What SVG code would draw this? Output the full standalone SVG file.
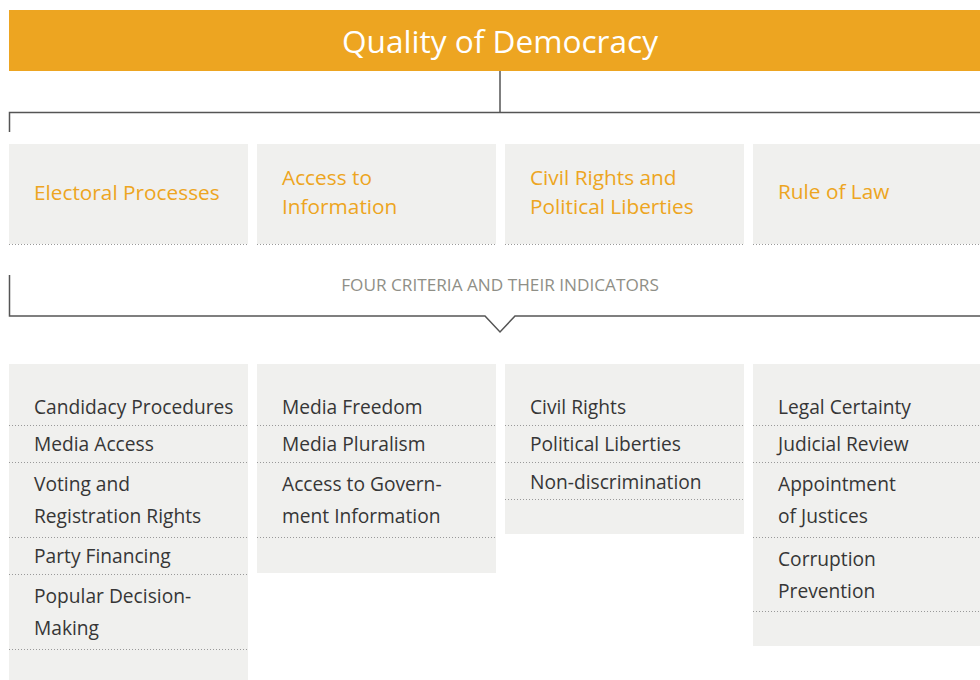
<svg xmlns="http://www.w3.org/2000/svg" width="980" height="680" viewBox="0 0 980 680">
<style>
.box{fill:#f0f0ee}
.dot{stroke:#999;stroke-width:1;stroke-dasharray:1 2;fill:none}
.crit{font-family:"Open Sans","Noto Sans",sans-serif;font-size:20.8px;fill:#eda521}
.ind{font-family:"Open Sans","Noto Sans",sans-serif;font-size:19.2px;fill:#363636}
.line{stroke:#555;stroke-width:1.5;fill:none}
</style>
<rect width="980" height="680" fill="#fff"/>
<g id="title">
<rect x="9" y="10" width="971" height="61" fill="#eda521"/>
<text x="500" y="53" text-anchor="middle" font-family="Open Sans, Noto Sans, sans-serif" font-size="31.6" fill="#fff">Quality of Democracy</text>
</g>
<g id="connectors">
<path class="line" d="M500,71 V112.5 M9.5,132 V112.5 H980"/>
<path class="line" d="M9.5,275 V316 H485 L500,332 L515,316 H980"/>
</g>
<text x="500" y="291" text-anchor="middle" font-family="Open Sans, Noto Sans, sans-serif" font-size="17.2" fill="#8f8f87">FOUR CRITERIA AND THEIR INDICATORS</text>
<g id="crit-electoral">
<rect class="box" x="9" y="144" width="239" height="100"/>
<path class="dot" d="M9,244.5 H248"/>
<text class="crit" x="34" y="200">Electoral Processes</text>
</g>
<g id="crit-access">
<rect class="box" x="257" y="144" width="239" height="100"/>
<path class="dot" d="M257,244.5 H496"/>
<text class="crit" x="282" y="185">Access to</text>
<text class="crit" x="282" y="214">Information</text>
</g>
<g id="crit-civil">
<rect class="box" x="505" y="144" width="239" height="100"/>
<path class="dot" d="M505,244.5 H744"/>
<text class="crit" x="530" y="185">Civil Rights and</text>
<text class="crit" x="530" y="214">Political Liberties</text>
</g>
<g id="crit-law">
<rect class="box" x="753" y="144" width="227" height="100"/>
<path class="dot" d="M753,244.5 H980"/>
<text class="crit" x="778" y="199">Rule of Law</text>
</g>
<g id="ind-electoral">
<rect class="box" x="9" y="364" width="239" height="316"/>
<path class="dot" d="M9,425.5 H248 M9,462.5 H248 M9,537.5 H248 M9,574.5 H248 M9,649.5 H248"/>
<text class="ind" x="34" y="414">Candidacy Procedures</text>
<text class="ind" x="34" y="451">Media Access</text>
<text class="ind" x="34" y="491">Voting and</text>
<text class="ind" x="34" y="523">Registration Rights</text>
<text class="ind" x="34" y="563">Party Financing</text>
<text class="ind" x="34" y="603">Popular Decision-</text>
<text class="ind" x="34" y="635">Making</text>
</g>
<g id="ind-access">
<rect class="box" x="257" y="364" width="239" height="209"/>
<path class="dot" d="M257,425.5 H496 M257,462.5 H496 M257,537.5 H496"/>
<text class="ind" x="282" y="414">Media Freedom</text>
<text class="ind" x="282" y="451">Media Pluralism</text>
<text class="ind" x="282" y="491">Access to Govern-</text>
<text class="ind" x="282" y="523">ment Information</text>
</g>
<g id="ind-civil">
<rect class="box" x="505" y="364" width="239" height="170"/>
<path class="dot" d="M505,425.5 H744 M505,462.5 H744 M505,499.5 H744"/>
<text class="ind" x="530" y="414">Civil Rights</text>
<text class="ind" x="530" y="451">Political Liberties</text>
<text class="ind" x="530" y="489">Non-discrimination</text>
</g>
<g id="ind-law">
<rect class="box" x="753" y="364" width="227" height="282"/>
<path class="dot" d="M753,425.5 H980 M753,462.5 H980 M753,537.5 H980 M753,611.5 H980"/>
<text class="ind" x="778" y="414">Legal Certainty</text>
<text class="ind" x="778" y="451">Judicial Review</text>
<text class="ind" x="778" y="491">Appointment</text>
<text class="ind" x="778" y="523">of Justices</text>
<text class="ind" x="778" y="566">Corruption</text>
<text class="ind" x="778" y="598">Prevention</text>
</g>
</svg>
